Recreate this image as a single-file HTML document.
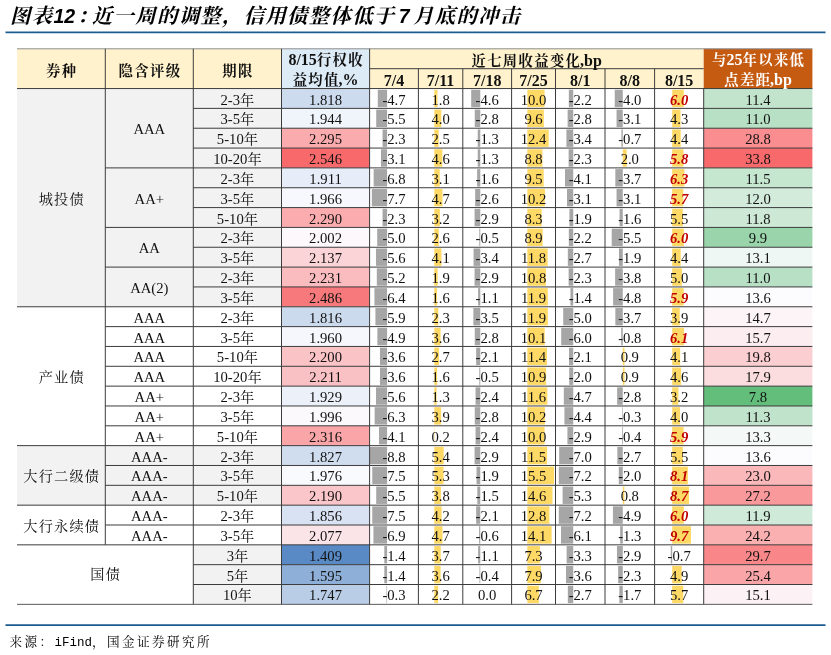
<!DOCTYPE html>
<html lang="zh-CN"><head><meta charset="utf-8"><title>图表12</title>
<style>
html,body{margin:0;padding:0;background:#fff}
body{width:831px;height:655px;position:relative;overflow:hidden;font-family:"Liberation Serif","Noto Serif CJK SC",serif;color:#111}
svg{position:absolute;left:0;top:0}
.layer{position:absolute;left:0;top:0;width:831px;height:655px;will-change:transform}
.title{position:absolute;left:10px;top:1px;white-space:nowrap;font-family:"Liberation Sans","Noto Serif CJK SC",sans-serif;font-weight:bold;font-style:italic;font-size:20.4px;letter-spacing:1.3px;line-height:30px;color:#000}
.title span{display:inline-block}
.title .t1{width:81.9px}
.title .co{margin-left:2px}
.title .n{font-size:19.5px;letter-spacing:0}
.title .n7{width:17.45px;text-align:center;letter-spacing:0;font-size:19.5px}
.src{position:absolute;left:9.5px;top:632.3px;white-space:nowrap;font-family:"Liberation Mono","Noto Serif CJK SC",serif;font-size:12.6px;letter-spacing:2.4px;line-height:22px;color:#000}
.src .m{font-size:12.5px;letter-spacing:0}
.c{position:absolute;display:flex;align-items:center;justify-content:center;text-align:center;font-size:14.67px;line-height:19.9px;white-space:nowrap}
.k{font-size:14.2px;letter-spacing:1.2px;margin-right:-1.2px}
.h{font-weight:bold;font-size:16px}
.h .k{font-size:14.4px;letter-spacing:1.3px;margin-right:-1.3px}
.h2{line-height:19px}
.h>div{position:relative;top:0.8px}
.h2>div{position:relative;top:-0.4px}
.w{color:#fff}
.r{color:#c00000;font-weight:bold;font-style:italic}
</style></head><body>
<svg width="831" height="655" viewBox="0 0 831 655">
<line x1="5.5" y1="32.4" x2="825.5" y2="32.4" stroke="#1c5c90" stroke-width="1.75"/>
<line x1="5.5" y1="625.2" x2="825.5" y2="625.2" stroke="#1c5c90" stroke-width="1.75"/>
<rect x="17.00" y="48.80" width="264.50" height="39.75" fill="#fff2cc"/>
<rect x="281.50" y="48.80" width="88.10" height="39.75" fill="#ddebf7"/>
<rect x="369.60" y="48.80" width="334.10" height="39.75" fill="#fff2cc"/>
<rect x="703.70" y="48.80" width="108.70" height="39.75" fill="#c55a11"/>
<rect x="17.00" y="88.55" width="264.50" height="218.22" fill="#f2f2f2"/>
<rect x="17.00" y="445.64" width="264.50" height="59.52" fill="#f2f2f2"/>
<rect x="193.30" y="544.83" width="88.20" height="59.52" fill="#f2f2f2"/>
<rect x="281.50" y="88.55" width="88.10" height="19.84" fill="#cddbee"/>
<rect x="703.70" y="88.55" width="108.70" height="19.84" fill="#c2e4cd"/>
<rect x="377.79" y="89.75" width="9.30" height="17.44" fill="#a6a6a6"/>
<rect x="434.30" y="89.75" width="3.14" height="17.44" fill="#ffd966"/>
<rect x="471.19" y="89.75" width="9.10" height="17.44" fill="#a6a6a6"/>
<rect x="527.32" y="89.75" width="17.25" height="17.44" fill="#ffd966"/>
<rect x="568.83" y="89.75" width="4.42" height="17.44" fill="#a6a6a6"/>
<rect x="614.73" y="89.75" width="8.05" height="17.44" fill="#a6a6a6"/>
<rect x="672.20" y="89.75" width="11.63" height="17.44" fill="#ffd966"/>
<rect x="281.50" y="108.39" width="88.10" height="19.84" fill="#f0f4fb"/>
<rect x="703.70" y="108.39" width="108.70" height="19.84" fill="#b7e0c4"/>
<rect x="376.21" y="109.59" width="10.88" height="17.44" fill="#a6a6a6"/>
<rect x="434.30" y="109.59" width="6.98" height="17.44" fill="#ffd966"/>
<rect x="474.75" y="109.59" width="5.54" height="17.44" fill="#a6a6a6"/>
<rect x="527.32" y="109.59" width="16.56" height="17.44" fill="#ffd966"/>
<rect x="567.62" y="109.59" width="5.62" height="17.44" fill="#a6a6a6"/>
<rect x="616.54" y="109.59" width="6.24" height="17.44" fill="#a6a6a6"/>
<rect x="672.20" y="109.59" width="8.34" height="17.44" fill="#ffd966"/>
<rect x="281.50" y="128.23" width="88.10" height="19.84" fill="#faabad"/>
<rect x="703.70" y="128.23" width="108.70" height="19.84" fill="#f98d90"/>
<rect x="382.54" y="129.43" width="4.55" height="17.44" fill="#a6a6a6"/>
<rect x="434.30" y="129.43" width="4.36" height="17.44" fill="#ffd966"/>
<rect x="477.72" y="129.43" width="2.57" height="17.44" fill="#a6a6a6"/>
<rect x="527.32" y="129.43" width="21.39" height="17.44" fill="#ffd966"/>
<rect x="566.42" y="129.43" width="6.83" height="17.44" fill="#a6a6a6"/>
<rect x="621.37" y="129.43" width="1.41" height="17.44" fill="#a6a6a6"/>
<rect x="672.20" y="129.43" width="8.53" height="17.44" fill="#ffd966"/>
<rect x="281.50" y="148.07" width="88.10" height="19.84" fill="#f8696b"/>
<rect x="703.70" y="148.07" width="108.70" height="19.84" fill="#f8696b"/>
<rect x="380.96" y="149.27" width="6.13" height="17.44" fill="#a6a6a6"/>
<rect x="434.30" y="149.27" width="8.03" height="17.44" fill="#ffd966"/>
<rect x="477.72" y="149.27" width="2.57" height="17.44" fill="#a6a6a6"/>
<rect x="527.32" y="149.27" width="15.18" height="17.44" fill="#ffd966"/>
<rect x="568.63" y="149.27" width="4.62" height="17.44" fill="#a6a6a6"/>
<rect x="622.78" y="149.27" width="3.92" height="17.44" fill="#ffd966"/>
<rect x="672.20" y="149.27" width="11.24" height="17.44" fill="#ffd966"/>
<rect x="281.50" y="167.90" width="88.10" height="19.84" fill="#e7edf8"/>
<rect x="703.70" y="167.90" width="108.70" height="19.84" fill="#c5e6cf"/>
<rect x="373.64" y="169.10" width="13.45" height="17.44" fill="#a6a6a6"/>
<rect x="434.30" y="169.10" width="5.41" height="17.44" fill="#ffd966"/>
<rect x="477.13" y="169.10" width="3.17" height="17.44" fill="#a6a6a6"/>
<rect x="527.32" y="169.10" width="16.38" height="17.44" fill="#ffd966"/>
<rect x="565.01" y="169.10" width="8.23" height="17.44" fill="#a6a6a6"/>
<rect x="615.34" y="169.10" width="7.45" height="17.44" fill="#a6a6a6"/>
<rect x="672.20" y="169.10" width="12.21" height="17.44" fill="#ffd966"/>
<rect x="281.50" y="187.74" width="88.10" height="19.84" fill="#f6f8fd"/>
<rect x="703.70" y="187.74" width="108.70" height="19.84" fill="#d2ebdb"/>
<rect x="371.86" y="188.94" width="15.23" height="17.44" fill="#a6a6a6"/>
<rect x="434.30" y="188.94" width="8.20" height="17.44" fill="#ffd966"/>
<rect x="475.15" y="188.94" width="5.14" height="17.44" fill="#a6a6a6"/>
<rect x="527.32" y="188.94" width="17.59" height="17.44" fill="#ffd966"/>
<rect x="567.02" y="188.94" width="6.22" height="17.44" fill="#a6a6a6"/>
<rect x="616.54" y="188.94" width="6.24" height="17.44" fill="#a6a6a6"/>
<rect x="672.20" y="188.94" width="11.05" height="17.44" fill="#ffd966"/>
<rect x="281.50" y="207.58" width="88.10" height="19.84" fill="#faacaf"/>
<rect x="703.70" y="207.58" width="108.70" height="19.84" fill="#cde9d6"/>
<rect x="382.54" y="208.78" width="4.55" height="17.44" fill="#a6a6a6"/>
<rect x="434.30" y="208.78" width="5.58" height="17.44" fill="#ffd966"/>
<rect x="474.55" y="208.78" width="5.74" height="17.44" fill="#a6a6a6"/>
<rect x="527.32" y="208.78" width="14.31" height="17.44" fill="#ffd966"/>
<rect x="569.43" y="208.78" width="3.82" height="17.44" fill="#a6a6a6"/>
<rect x="619.56" y="208.78" width="3.22" height="17.44" fill="#a6a6a6"/>
<rect x="672.20" y="208.78" width="10.66" height="17.44" fill="#ffd966"/>
<rect x="281.50" y="227.42" width="88.10" height="19.84" fill="#fcf8fb"/>
<rect x="703.70" y="227.42" width="108.70" height="19.84" fill="#9ad4ab"/>
<rect x="377.20" y="228.62" width="9.89" height="17.44" fill="#a6a6a6"/>
<rect x="434.30" y="228.62" width="4.54" height="17.44" fill="#ffd966"/>
<rect x="479.30" y="228.62" width="0.99" height="17.44" fill="#a6a6a6"/>
<rect x="527.32" y="228.62" width="15.35" height="17.44" fill="#ffd966"/>
<rect x="568.83" y="228.62" width="4.42" height="17.44" fill="#a6a6a6"/>
<rect x="611.71" y="228.62" width="11.07" height="17.44" fill="#a6a6a6"/>
<rect x="672.20" y="228.62" width="11.63" height="17.44" fill="#ffd966"/>
<rect x="281.50" y="247.26" width="88.10" height="19.84" fill="#fbd4d7"/>
<rect x="703.70" y="247.26" width="108.70" height="19.84" fill="#eff7f4"/>
<rect x="376.01" y="248.46" width="11.08" height="17.44" fill="#a6a6a6"/>
<rect x="434.30" y="248.46" width="7.16" height="17.44" fill="#ffd966"/>
<rect x="473.57" y="248.46" width="6.73" height="17.44" fill="#a6a6a6"/>
<rect x="527.32" y="248.46" width="20.35" height="17.44" fill="#ffd966"/>
<rect x="567.82" y="248.46" width="5.42" height="17.44" fill="#a6a6a6"/>
<rect x="618.96" y="248.46" width="3.82" height="17.44" fill="#a6a6a6"/>
<rect x="672.20" y="248.46" width="8.53" height="17.44" fill="#ffd966"/>
<rect x="281.50" y="267.10" width="88.10" height="19.84" fill="#fabcbe"/>
<rect x="703.70" y="267.10" width="108.70" height="19.84" fill="#b7e0c4"/>
<rect x="376.80" y="268.30" width="10.29" height="17.44" fill="#a6a6a6"/>
<rect x="434.30" y="268.30" width="3.32" height="17.44" fill="#ffd966"/>
<rect x="474.55" y="268.30" width="5.74" height="17.44" fill="#a6a6a6"/>
<rect x="527.32" y="268.30" width="18.63" height="17.44" fill="#ffd966"/>
<rect x="568.63" y="268.30" width="4.62" height="17.44" fill="#a6a6a6"/>
<rect x="615.13" y="268.30" width="7.65" height="17.44" fill="#a6a6a6"/>
<rect x="672.20" y="268.30" width="9.69" height="17.44" fill="#ffd966"/>
<rect x="281.50" y="286.93" width="88.10" height="19.84" fill="#f8797b"/>
<rect x="703.70" y="286.93" width="108.70" height="19.84" fill="#fcfcff"/>
<rect x="374.43" y="288.13" width="12.66" height="17.44" fill="#a6a6a6"/>
<rect x="434.30" y="288.13" width="2.79" height="17.44" fill="#ffd966"/>
<rect x="478.12" y="288.13" width="2.18" height="17.44" fill="#a6a6a6"/>
<rect x="527.32" y="288.13" width="20.52" height="17.44" fill="#ffd966"/>
<rect x="570.43" y="288.13" width="2.81" height="17.44" fill="#a6a6a6"/>
<rect x="613.12" y="288.13" width="9.66" height="17.44" fill="#a6a6a6"/>
<rect x="672.20" y="288.13" width="11.44" height="17.44" fill="#ffd966"/>
<rect x="281.50" y="306.77" width="88.10" height="19.84" fill="#ccdaee"/>
<rect x="703.70" y="306.77" width="108.70" height="19.84" fill="#fcf4f7"/>
<rect x="375.42" y="307.97" width="11.67" height="17.44" fill="#a6a6a6"/>
<rect x="434.30" y="307.97" width="4.01" height="17.44" fill="#ffd966"/>
<rect x="473.37" y="307.97" width="6.92" height="17.44" fill="#a6a6a6"/>
<rect x="527.32" y="307.97" width="20.52" height="17.44" fill="#ffd966"/>
<rect x="563.21" y="307.97" width="10.04" height="17.44" fill="#a6a6a6"/>
<rect x="615.34" y="307.97" width="7.45" height="17.44" fill="#a6a6a6"/>
<rect x="672.20" y="307.97" width="7.56" height="17.44" fill="#ffd966"/>
<rect x="281.50" y="326.61" width="88.10" height="19.84" fill="#f5f7fc"/>
<rect x="703.70" y="326.61" width="108.70" height="19.84" fill="#fcedf0"/>
<rect x="377.40" y="327.81" width="9.69" height="17.44" fill="#a6a6a6"/>
<rect x="434.30" y="327.81" width="6.28" height="17.44" fill="#ffd966"/>
<rect x="474.75" y="327.81" width="5.54" height="17.44" fill="#a6a6a6"/>
<rect x="527.32" y="327.81" width="17.42" height="17.44" fill="#ffd966"/>
<rect x="561.20" y="327.81" width="12.05" height="17.44" fill="#a6a6a6"/>
<rect x="621.17" y="327.81" width="1.61" height="17.44" fill="#a6a6a6"/>
<rect x="672.20" y="327.81" width="11.83" height="17.44" fill="#ffd966"/>
<rect x="281.50" y="346.45" width="88.10" height="19.84" fill="#fac4c6"/>
<rect x="703.70" y="346.45" width="108.70" height="19.84" fill="#fbcfd2"/>
<rect x="379.97" y="347.65" width="7.12" height="17.44" fill="#a6a6a6"/>
<rect x="434.30" y="347.65" width="4.71" height="17.44" fill="#ffd966"/>
<rect x="476.14" y="347.65" width="4.15" height="17.44" fill="#a6a6a6"/>
<rect x="527.32" y="347.65" width="19.66" height="17.44" fill="#ffd966"/>
<rect x="569.03" y="347.65" width="4.22" height="17.44" fill="#a6a6a6"/>
<rect x="622.78" y="347.65" width="1.76" height="17.44" fill="#ffd966"/>
<rect x="672.20" y="347.65" width="7.95" height="17.44" fill="#ffd966"/>
<rect x="281.50" y="366.29" width="88.10" height="19.84" fill="#fac1c4"/>
<rect x="703.70" y="366.29" width="108.70" height="19.84" fill="#fbdddf"/>
<rect x="379.97" y="367.49" width="7.12" height="17.44" fill="#a6a6a6"/>
<rect x="434.30" y="367.49" width="2.79" height="17.44" fill="#ffd966"/>
<rect x="479.30" y="367.49" width="0.99" height="17.44" fill="#a6a6a6"/>
<rect x="527.32" y="367.49" width="18.80" height="17.44" fill="#ffd966"/>
<rect x="569.23" y="367.49" width="4.02" height="17.44" fill="#a6a6a6"/>
<rect x="622.78" y="367.49" width="1.76" height="17.44" fill="#ffd966"/>
<rect x="672.20" y="367.49" width="8.92" height="17.44" fill="#ffd966"/>
<rect x="281.50" y="386.13" width="88.10" height="19.84" fill="#ecf1f9"/>
<rect x="703.70" y="386.13" width="108.70" height="19.84" fill="#63be7b"/>
<rect x="376.01" y="387.33" width="11.08" height="17.44" fill="#a6a6a6"/>
<rect x="434.30" y="387.33" width="2.27" height="17.44" fill="#ffd966"/>
<rect x="475.54" y="387.33" width="4.75" height="17.44" fill="#a6a6a6"/>
<rect x="527.32" y="387.33" width="20.01" height="17.44" fill="#ffd966"/>
<rect x="563.81" y="387.33" width="9.44" height="17.44" fill="#a6a6a6"/>
<rect x="617.15" y="387.33" width="5.63" height="17.44" fill="#a6a6a6"/>
<rect x="672.20" y="387.33" width="6.20" height="17.44" fill="#ffd966"/>
<rect x="281.50" y="405.97" width="88.10" height="19.84" fill="#fcf9fc"/>
<rect x="703.70" y="405.97" width="108.70" height="19.84" fill="#bfe3cb"/>
<rect x="374.63" y="407.17" width="12.46" height="17.44" fill="#a6a6a6"/>
<rect x="434.30" y="407.17" width="6.81" height="17.44" fill="#ffd966"/>
<rect x="474.75" y="407.17" width="5.54" height="17.44" fill="#a6a6a6"/>
<rect x="527.32" y="407.17" width="17.59" height="17.44" fill="#ffd966"/>
<rect x="564.41" y="407.17" width="8.84" height="17.44" fill="#a6a6a6"/>
<rect x="622.18" y="407.17" width="0.60" height="17.44" fill="#a6a6a6"/>
<rect x="672.20" y="407.17" width="7.75" height="17.44" fill="#ffd966"/>
<rect x="281.50" y="425.80" width="88.10" height="19.84" fill="#faa5a8"/>
<rect x="703.70" y="425.80" width="108.70" height="19.84" fill="#f4f9f8"/>
<rect x="378.98" y="427.00" width="8.11" height="17.44" fill="#a6a6a6"/>
<rect x="434.30" y="427.00" width="0.35" height="17.44" fill="#ffd966"/>
<rect x="475.54" y="427.00" width="4.75" height="17.44" fill="#a6a6a6"/>
<rect x="527.32" y="427.00" width="17.25" height="17.44" fill="#ffd966"/>
<rect x="567.42" y="427.00" width="5.82" height="17.44" fill="#a6a6a6"/>
<rect x="621.98" y="427.00" width="0.80" height="17.44" fill="#a6a6a6"/>
<rect x="672.20" y="427.00" width="11.44" height="17.44" fill="#ffd966"/>
<rect x="281.50" y="445.64" width="88.10" height="19.84" fill="#cfddef"/>
<rect x="703.70" y="445.64" width="108.70" height="19.84" fill="#fcfcff"/>
<rect x="369.68" y="446.84" width="17.41" height="17.44" fill="#a6a6a6"/>
<rect x="434.30" y="446.84" width="9.42" height="17.44" fill="#ffd966"/>
<rect x="474.55" y="446.84" width="5.74" height="17.44" fill="#a6a6a6"/>
<rect x="527.32" y="446.84" width="19.83" height="17.44" fill="#ffd966"/>
<rect x="559.19" y="446.84" width="14.06" height="17.44" fill="#a6a6a6"/>
<rect x="617.35" y="446.84" width="5.43" height="17.44" fill="#a6a6a6"/>
<rect x="672.20" y="446.84" width="10.66" height="17.44" fill="#ffd966"/>
<rect x="281.50" y="465.48" width="88.10" height="19.84" fill="#f9fafe"/>
<rect x="703.70" y="465.48" width="108.70" height="19.84" fill="#fab8ba"/>
<rect x="372.25" y="466.68" width="14.84" height="17.44" fill="#a6a6a6"/>
<rect x="434.30" y="466.68" width="9.25" height="17.44" fill="#ffd966"/>
<rect x="476.53" y="466.68" width="3.76" height="17.44" fill="#a6a6a6"/>
<rect x="527.32" y="466.68" width="26.73" height="17.44" fill="#ffd966"/>
<rect x="558.79" y="466.68" width="14.46" height="17.44" fill="#a6a6a6"/>
<rect x="618.76" y="466.68" width="4.02" height="17.44" fill="#a6a6a6"/>
<rect x="672.20" y="466.68" width="15.70" height="17.44" fill="#ffd966"/>
<rect x="281.50" y="485.32" width="88.10" height="19.84" fill="#fbc6c9"/>
<rect x="703.70" y="485.32" width="108.70" height="19.84" fill="#f9999b"/>
<rect x="376.21" y="486.52" width="10.88" height="17.44" fill="#a6a6a6"/>
<rect x="434.30" y="486.52" width="6.63" height="17.44" fill="#ffd966"/>
<rect x="477.32" y="486.52" width="2.97" height="17.44" fill="#a6a6a6"/>
<rect x="527.32" y="486.52" width="25.18" height="17.44" fill="#ffd966"/>
<rect x="562.60" y="486.52" width="10.64" height="17.44" fill="#a6a6a6"/>
<rect x="622.78" y="486.52" width="1.57" height="17.44" fill="#ffd966"/>
<rect x="672.20" y="486.52" width="16.87" height="17.44" fill="#ffd966"/>
<rect x="281.50" y="505.16" width="88.10" height="19.84" fill="#d8e2f2"/>
<rect x="703.70" y="505.16" width="108.70" height="19.84" fill="#cfead8"/>
<rect x="372.25" y="506.36" width="14.84" height="17.44" fill="#a6a6a6"/>
<rect x="434.30" y="506.36" width="7.33" height="17.44" fill="#ffd966"/>
<rect x="476.14" y="506.36" width="4.15" height="17.44" fill="#a6a6a6"/>
<rect x="527.32" y="506.36" width="22.08" height="17.44" fill="#ffd966"/>
<rect x="558.79" y="506.36" width="14.46" height="17.44" fill="#a6a6a6"/>
<rect x="612.92" y="506.36" width="9.86" height="17.44" fill="#a6a6a6"/>
<rect x="672.20" y="506.36" width="11.63" height="17.44" fill="#ffd966"/>
<rect x="281.50" y="525.00" width="88.10" height="19.84" fill="#fbe4e7"/>
<rect x="703.70" y="525.00" width="108.70" height="19.84" fill="#faafb1"/>
<rect x="373.44" y="526.20" width="13.65" height="17.44" fill="#a6a6a6"/>
<rect x="434.30" y="526.20" width="8.20" height="17.44" fill="#ffd966"/>
<rect x="479.10" y="526.20" width="1.19" height="17.44" fill="#a6a6a6"/>
<rect x="527.32" y="526.20" width="24.32" height="17.44" fill="#ffd966"/>
<rect x="561.00" y="526.20" width="12.25" height="17.44" fill="#a6a6a6"/>
<rect x="620.17" y="526.20" width="2.62" height="17.44" fill="#a6a6a6"/>
<rect x="672.20" y="526.20" width="18.81" height="17.44" fill="#ffd966"/>
<rect x="281.50" y="544.83" width="88.10" height="19.84" fill="#5a8ac6"/>
<rect x="703.70" y="544.83" width="108.70" height="19.84" fill="#f98789"/>
<rect x="384.32" y="546.03" width="2.77" height="17.44" fill="#a6a6a6"/>
<rect x="434.30" y="546.03" width="6.46" height="17.44" fill="#ffd966"/>
<rect x="478.12" y="546.03" width="2.18" height="17.44" fill="#a6a6a6"/>
<rect x="527.32" y="546.03" width="12.59" height="17.44" fill="#ffd966"/>
<rect x="566.62" y="546.03" width="6.63" height="17.44" fill="#a6a6a6"/>
<rect x="616.95" y="546.03" width="5.84" height="17.44" fill="#a6a6a6"/>
<rect x="670.81" y="546.03" width="1.39" height="17.44" fill="#a6a6a6"/>
<rect x="281.50" y="564.67" width="88.10" height="19.84" fill="#8eafd8"/>
<rect x="703.70" y="564.67" width="108.70" height="19.84" fill="#faa6a9"/>
<rect x="384.32" y="565.87" width="2.77" height="17.44" fill="#a6a6a6"/>
<rect x="434.30" y="565.87" width="6.28" height="17.44" fill="#ffd966"/>
<rect x="479.50" y="565.87" width="0.79" height="17.44" fill="#a6a6a6"/>
<rect x="527.32" y="565.87" width="13.62" height="17.44" fill="#ffd966"/>
<rect x="566.02" y="565.87" width="7.23" height="17.44" fill="#a6a6a6"/>
<rect x="618.15" y="565.87" width="4.63" height="17.44" fill="#a6a6a6"/>
<rect x="672.20" y="565.87" width="9.50" height="17.44" fill="#ffd966"/>
<rect x="281.50" y="584.51" width="88.10" height="19.84" fill="#b9cde7"/>
<rect x="703.70" y="584.51" width="108.70" height="19.84" fill="#fcf1f4"/>
<rect x="386.50" y="585.71" width="0.59" height="17.44" fill="#a6a6a6"/>
<rect x="434.30" y="585.71" width="3.84" height="17.44" fill="#ffd966"/>
<rect x="527.32" y="585.71" width="11.56" height="17.44" fill="#ffd966"/>
<rect x="567.82" y="585.71" width="5.42" height="17.44" fill="#a6a6a6"/>
<rect x="619.36" y="585.71" width="3.42" height="17.44" fill="#a6a6a6"/>
<rect x="672.20" y="585.71" width="11.05" height="17.44" fill="#ffd966"/>
<line x1="17.00" y1="48.80" x2="812.40" y2="48.80" stroke="#8c8c8c" stroke-width="1"/>
<line x1="369.60" y1="68.70" x2="703.70" y2="68.70" stroke="#3c3c3c" stroke-width="1"/>
<line x1="17.00" y1="88.55" x2="812.40" y2="88.55" stroke="#3c3c3c" stroke-width="1"/>
<line x1="105.30" y1="48.80" x2="105.30" y2="88.55" stroke="#3c3c3c" stroke-width="1"/>
<line x1="193.30" y1="48.80" x2="193.30" y2="88.55" stroke="#3c3c3c" stroke-width="1"/>
<line x1="281.50" y1="48.80" x2="281.50" y2="88.55" stroke="#3c3c3c" stroke-width="1"/>
<line x1="369.60" y1="48.80" x2="369.60" y2="88.55" stroke="#3c3c3c" stroke-width="1"/>
<line x1="418.40" y1="68.70" x2="418.40" y2="88.55" stroke="#3c3c3c" stroke-width="1"/>
<line x1="462.80" y1="68.70" x2="462.80" y2="88.55" stroke="#3c3c3c" stroke-width="1"/>
<line x1="511.60" y1="68.70" x2="511.60" y2="88.55" stroke="#3c3c3c" stroke-width="1"/>
<line x1="555.50" y1="68.70" x2="555.50" y2="88.55" stroke="#3c3c3c" stroke-width="1"/>
<line x1="605.00" y1="68.70" x2="605.00" y2="88.55" stroke="#3c3c3c" stroke-width="1"/>
<line x1="654.60" y1="68.70" x2="654.60" y2="88.55" stroke="#3c3c3c" stroke-width="1"/>
<line x1="105.30" y1="88.55" x2="105.30" y2="544.83" stroke="#3c3c3c" stroke-width="1"/>
<line x1="193.30" y1="88.55" x2="193.30" y2="604.35" stroke="#3c3c3c" stroke-width="1"/>
<line x1="281.50" y1="88.55" x2="281.50" y2="604.35" stroke="#3c3c3c" stroke-width="1"/>
<line x1="369.60" y1="88.55" x2="369.60" y2="604.35" stroke="#3c3c3c" stroke-width="1"/>
<line x1="418.40" y1="88.55" x2="418.40" y2="604.35" stroke="#3c3c3c" stroke-width="1"/>
<line x1="462.80" y1="88.55" x2="462.80" y2="604.35" stroke="#3c3c3c" stroke-width="1"/>
<line x1="511.60" y1="88.55" x2="511.60" y2="604.35" stroke="#3c3c3c" stroke-width="1"/>
<line x1="555.50" y1="88.55" x2="555.50" y2="604.35" stroke="#3c3c3c" stroke-width="1"/>
<line x1="605.00" y1="88.55" x2="605.00" y2="604.35" stroke="#3c3c3c" stroke-width="1"/>
<line x1="654.60" y1="88.55" x2="654.60" y2="604.35" stroke="#3c3c3c" stroke-width="1"/>
<line x1="703.70" y1="88.55" x2="703.70" y2="604.35" stroke="#3c3c3c" stroke-width="1"/>
<line x1="193.30" y1="108.39" x2="812.40" y2="108.39" stroke="#3c3c3c" stroke-width="1"/>
<line x1="193.30" y1="128.23" x2="812.40" y2="128.23" stroke="#3c3c3c" stroke-width="1"/>
<line x1="193.30" y1="148.07" x2="812.40" y2="148.07" stroke="#3c3c3c" stroke-width="1"/>
<line x1="105.30" y1="167.90" x2="812.40" y2="167.90" stroke="#3c3c3c" stroke-width="1"/>
<line x1="193.30" y1="187.74" x2="812.40" y2="187.74" stroke="#3c3c3c" stroke-width="1"/>
<line x1="193.30" y1="207.58" x2="812.40" y2="207.58" stroke="#3c3c3c" stroke-width="1"/>
<line x1="105.30" y1="227.42" x2="812.40" y2="227.42" stroke="#3c3c3c" stroke-width="1"/>
<line x1="193.30" y1="247.26" x2="812.40" y2="247.26" stroke="#3c3c3c" stroke-width="1"/>
<line x1="105.30" y1="267.10" x2="812.40" y2="267.10" stroke="#3c3c3c" stroke-width="1"/>
<line x1="193.30" y1="286.93" x2="812.40" y2="286.93" stroke="#3c3c3c" stroke-width="1"/>
<line x1="17.00" y1="306.77" x2="812.40" y2="306.77" stroke="#3c3c3c" stroke-width="1"/>
<line x1="105.30" y1="326.61" x2="812.40" y2="326.61" stroke="#3c3c3c" stroke-width="1"/>
<line x1="105.30" y1="346.45" x2="812.40" y2="346.45" stroke="#3c3c3c" stroke-width="1"/>
<line x1="105.30" y1="366.29" x2="812.40" y2="366.29" stroke="#3c3c3c" stroke-width="1"/>
<line x1="105.30" y1="386.13" x2="812.40" y2="386.13" stroke="#3c3c3c" stroke-width="1"/>
<line x1="105.30" y1="405.97" x2="812.40" y2="405.97" stroke="#3c3c3c" stroke-width="1"/>
<line x1="105.30" y1="425.80" x2="812.40" y2="425.80" stroke="#3c3c3c" stroke-width="1"/>
<line x1="17.00" y1="445.64" x2="812.40" y2="445.64" stroke="#3c3c3c" stroke-width="1"/>
<line x1="105.30" y1="465.48" x2="812.40" y2="465.48" stroke="#3c3c3c" stroke-width="1"/>
<line x1="105.30" y1="485.32" x2="812.40" y2="485.32" stroke="#3c3c3c" stroke-width="1"/>
<line x1="17.00" y1="505.16" x2="812.40" y2="505.16" stroke="#3c3c3c" stroke-width="1"/>
<line x1="105.30" y1="525.00" x2="812.40" y2="525.00" stroke="#3c3c3c" stroke-width="1"/>
<line x1="17.00" y1="544.83" x2="812.40" y2="544.83" stroke="#3c3c3c" stroke-width="1"/>
<line x1="193.30" y1="564.67" x2="812.40" y2="564.67" stroke="#3c3c3c" stroke-width="1"/>
<line x1="193.30" y1="584.51" x2="812.40" y2="584.51" stroke="#3c3c3c" stroke-width="1"/>
<line x1="17.00" y1="604.35" x2="812.40" y2="604.35" stroke="#5a5a5a" stroke-width="1"/>
</svg>
<div class="layer">
<div class="title"><span class="t1">图表<span class="n">12</span><span class="co">：</span></span><span>近一周的调整，信用债整体低于</span><span class="n7">7</span><span>月底的冲击</span></div>
<div class="c h" style="left:17.00px;top:50.80px;width:88.30px;height:39.75px"><div><span class="k">券种</span></div></div>
<div class="c h" style="left:105.30px;top:50.80px;width:88.00px;height:39.75px"><div><span class="k">隐含评级</span></div></div>
<div class="c h" style="left:193.30px;top:50.80px;width:88.20px;height:39.75px"><div><span class="k">期限</span></div></div>
<div class="c h h2" style="left:281.50px;top:50.80px;width:88.10px;height:39.75px"><div>8/15<span class="k">行权收</span><br><span class="k">益均值</span>,%</div></div>
<div class="c h" style="left:369.60px;top:50.80px;width:334.10px;height:19.90px"><div><span class="k">近七周收益变化</span>,bp</div></div>
<div class="c h" style="left:369.60px;top:70.70px;width:48.80px;height:19.85px"><div>7/4</div></div>
<div class="c h" style="left:418.40px;top:70.70px;width:44.40px;height:19.85px"><div>7/11</div></div>
<div class="c h" style="left:462.80px;top:70.70px;width:48.80px;height:19.85px"><div>7/18</div></div>
<div class="c h" style="left:511.60px;top:70.70px;width:43.90px;height:19.85px"><div>7/25</div></div>
<div class="c h" style="left:555.50px;top:70.70px;width:49.50px;height:19.85px"><div>8/1</div></div>
<div class="c h" style="left:605.00px;top:70.70px;width:49.60px;height:19.85px"><div>8/8</div></div>
<div class="c h" style="left:654.60px;top:70.70px;width:49.10px;height:19.85px"><div>8/15</div></div>
<div class="c h h2 w" style="left:703.70px;top:50.80px;width:108.70px;height:39.75px"><div><span class="k">与</span>25<span class="k">年以来低</span><br><span class="k">点差距</span>,bp</div></div>
<div class="c " style="left:17.00px;top:90.55px;width:88.30px;height:218.22px"><div><span class="k">城投债</span></div></div>
<div class="c " style="left:17.00px;top:308.77px;width:88.30px;height:138.87px"><div><span class="k">产业债</span></div></div>
<div class="c " style="left:17.00px;top:447.64px;width:88.30px;height:59.52px"><div><span class="k">大行二级债</span></div></div>
<div class="c " style="left:17.00px;top:507.16px;width:88.30px;height:39.68px"><div><span class="k">大行永续债</span></div></div>
<div class="c " style="left:17.00px;top:545.43px;width:176.30px;height:59.52px"><div><span class="k">国债</span></div></div>
<div class="c " style="left:105.30px;top:90.55px;width:88.00px;height:79.35px"><div>AAA</div></div>
<div class="c " style="left:105.30px;top:169.90px;width:88.00px;height:59.52px"><div>AA+</div></div>
<div class="c " style="left:105.30px;top:229.42px;width:88.00px;height:39.68px"><div>AA</div></div>
<div class="c " style="left:105.30px;top:269.10px;width:88.00px;height:39.68px"><div>AA(2)</div></div>
<div class="c " style="left:105.30px;top:308.77px;width:88.00px;height:19.84px"><div>AAA</div></div>
<div class="c " style="left:105.30px;top:328.61px;width:88.00px;height:19.84px"><div>AAA</div></div>
<div class="c " style="left:105.30px;top:348.45px;width:88.00px;height:19.84px"><div>AAA</div></div>
<div class="c " style="left:105.30px;top:368.29px;width:88.00px;height:19.84px"><div>AAA</div></div>
<div class="c " style="left:105.30px;top:388.13px;width:88.00px;height:19.84px"><div>AA+</div></div>
<div class="c " style="left:105.30px;top:407.97px;width:88.00px;height:19.84px"><div>AA+</div></div>
<div class="c " style="left:105.30px;top:427.80px;width:88.00px;height:19.84px"><div>AA+</div></div>
<div class="c " style="left:105.30px;top:447.64px;width:88.00px;height:19.84px"><div>AAA-</div></div>
<div class="c " style="left:105.30px;top:467.48px;width:88.00px;height:19.84px"><div>AAA-</div></div>
<div class="c " style="left:105.30px;top:487.32px;width:88.00px;height:19.84px"><div>AAA-</div></div>
<div class="c " style="left:105.30px;top:507.16px;width:88.00px;height:19.84px"><div>AAA-</div></div>
<div class="c " style="left:105.30px;top:527.00px;width:88.00px;height:19.84px"><div>AAA-</div></div>
<div class="c " style="left:193.30px;top:90.55px;width:88.20px;height:19.84px"><div>2-3<span class="k">年</span></div></div>
<div class="c " style="left:281.50px;top:90.55px;width:88.10px;height:19.84px"><div>1.818</div></div>
<div class="c " style="left:369.60px;top:90.55px;width:48.80px;height:19.84px"><div>-4.7</div></div>
<div class="c " style="left:418.40px;top:90.55px;width:44.40px;height:19.84px"><div>1.8</div></div>
<div class="c " style="left:462.80px;top:90.55px;width:48.80px;height:19.84px"><div>-4.6</div></div>
<div class="c " style="left:511.60px;top:90.55px;width:43.90px;height:19.84px"><div>10.0</div></div>
<div class="c " style="left:555.50px;top:90.55px;width:49.50px;height:19.84px"><div>-2.2</div></div>
<div class="c " style="left:605.00px;top:90.55px;width:49.60px;height:19.84px"><div>-4.0</div></div>
<div class="c r" style="left:654.60px;top:90.55px;width:49.10px;height:19.84px"><div>6.0</div></div>
<div class="c " style="left:703.70px;top:90.55px;width:108.70px;height:19.84px"><div>11.4</div></div>
<div class="c " style="left:193.30px;top:110.39px;width:88.20px;height:19.84px"><div>3-5<span class="k">年</span></div></div>
<div class="c " style="left:281.50px;top:110.39px;width:88.10px;height:19.84px"><div>1.944</div></div>
<div class="c " style="left:369.60px;top:110.39px;width:48.80px;height:19.84px"><div>-5.5</div></div>
<div class="c " style="left:418.40px;top:110.39px;width:44.40px;height:19.84px"><div>4.0</div></div>
<div class="c " style="left:462.80px;top:110.39px;width:48.80px;height:19.84px"><div>-2.8</div></div>
<div class="c " style="left:511.60px;top:110.39px;width:43.90px;height:19.84px"><div>9.6</div></div>
<div class="c " style="left:555.50px;top:110.39px;width:49.50px;height:19.84px"><div>-2.8</div></div>
<div class="c " style="left:605.00px;top:110.39px;width:49.60px;height:19.84px"><div>-3.1</div></div>
<div class="c " style="left:654.60px;top:110.39px;width:49.10px;height:19.84px"><div>4.3</div></div>
<div class="c " style="left:703.70px;top:110.39px;width:108.70px;height:19.84px"><div>11.0</div></div>
<div class="c " style="left:193.30px;top:130.23px;width:88.20px;height:19.84px"><div>5-10<span class="k">年</span></div></div>
<div class="c " style="left:281.50px;top:130.23px;width:88.10px;height:19.84px"><div>2.295</div></div>
<div class="c " style="left:369.60px;top:130.23px;width:48.80px;height:19.84px"><div>-2.3</div></div>
<div class="c " style="left:418.40px;top:130.23px;width:44.40px;height:19.84px"><div>2.5</div></div>
<div class="c " style="left:462.80px;top:130.23px;width:48.80px;height:19.84px"><div>-1.3</div></div>
<div class="c " style="left:511.60px;top:130.23px;width:43.90px;height:19.84px"><div>12.4</div></div>
<div class="c " style="left:555.50px;top:130.23px;width:49.50px;height:19.84px"><div>-3.4</div></div>
<div class="c " style="left:605.00px;top:130.23px;width:49.60px;height:19.84px"><div>-0.7</div></div>
<div class="c " style="left:654.60px;top:130.23px;width:49.10px;height:19.84px"><div>4.4</div></div>
<div class="c " style="left:703.70px;top:130.23px;width:108.70px;height:19.84px"><div>28.8</div></div>
<div class="c " style="left:193.30px;top:150.07px;width:88.20px;height:19.84px"><div>10-20<span class="k">年</span></div></div>
<div class="c " style="left:281.50px;top:150.07px;width:88.10px;height:19.84px"><div>2.546</div></div>
<div class="c " style="left:369.60px;top:150.07px;width:48.80px;height:19.84px"><div>-3.1</div></div>
<div class="c " style="left:418.40px;top:150.07px;width:44.40px;height:19.84px"><div>4.6</div></div>
<div class="c " style="left:462.80px;top:150.07px;width:48.80px;height:19.84px"><div>-1.3</div></div>
<div class="c " style="left:511.60px;top:150.07px;width:43.90px;height:19.84px"><div>8.8</div></div>
<div class="c " style="left:555.50px;top:150.07px;width:49.50px;height:19.84px"><div>-2.3</div></div>
<div class="c " style="left:605.00px;top:150.07px;width:49.60px;height:19.84px"><div>2.0</div></div>
<div class="c r" style="left:654.60px;top:150.07px;width:49.10px;height:19.84px"><div>5.8</div></div>
<div class="c " style="left:703.70px;top:150.07px;width:108.70px;height:19.84px"><div>33.8</div></div>
<div class="c " style="left:193.30px;top:169.90px;width:88.20px;height:19.84px"><div>2-3<span class="k">年</span></div></div>
<div class="c " style="left:281.50px;top:169.90px;width:88.10px;height:19.84px"><div>1.911</div></div>
<div class="c " style="left:369.60px;top:169.90px;width:48.80px;height:19.84px"><div>-6.8</div></div>
<div class="c " style="left:418.40px;top:169.90px;width:44.40px;height:19.84px"><div>3.1</div></div>
<div class="c " style="left:462.80px;top:169.90px;width:48.80px;height:19.84px"><div>-1.6</div></div>
<div class="c " style="left:511.60px;top:169.90px;width:43.90px;height:19.84px"><div>9.5</div></div>
<div class="c " style="left:555.50px;top:169.90px;width:49.50px;height:19.84px"><div>-4.1</div></div>
<div class="c " style="left:605.00px;top:169.90px;width:49.60px;height:19.84px"><div>-3.7</div></div>
<div class="c r" style="left:654.60px;top:169.90px;width:49.10px;height:19.84px"><div>6.3</div></div>
<div class="c " style="left:703.70px;top:169.90px;width:108.70px;height:19.84px"><div>11.5</div></div>
<div class="c " style="left:193.30px;top:189.74px;width:88.20px;height:19.84px"><div>3-5<span class="k">年</span></div></div>
<div class="c " style="left:281.50px;top:189.74px;width:88.10px;height:19.84px"><div>1.966</div></div>
<div class="c " style="left:369.60px;top:189.74px;width:48.80px;height:19.84px"><div>-7.7</div></div>
<div class="c " style="left:418.40px;top:189.74px;width:44.40px;height:19.84px"><div>4.7</div></div>
<div class="c " style="left:462.80px;top:189.74px;width:48.80px;height:19.84px"><div>-2.6</div></div>
<div class="c " style="left:511.60px;top:189.74px;width:43.90px;height:19.84px"><div>10.2</div></div>
<div class="c " style="left:555.50px;top:189.74px;width:49.50px;height:19.84px"><div>-3.1</div></div>
<div class="c " style="left:605.00px;top:189.74px;width:49.60px;height:19.84px"><div>-3.1</div></div>
<div class="c r" style="left:654.60px;top:189.74px;width:49.10px;height:19.84px"><div>5.7</div></div>
<div class="c " style="left:703.70px;top:189.74px;width:108.70px;height:19.84px"><div>12.0</div></div>
<div class="c " style="left:193.30px;top:209.58px;width:88.20px;height:19.84px"><div>5-10<span class="k">年</span></div></div>
<div class="c " style="left:281.50px;top:209.58px;width:88.10px;height:19.84px"><div>2.290</div></div>
<div class="c " style="left:369.60px;top:209.58px;width:48.80px;height:19.84px"><div>-2.3</div></div>
<div class="c " style="left:418.40px;top:209.58px;width:44.40px;height:19.84px"><div>3.2</div></div>
<div class="c " style="left:462.80px;top:209.58px;width:48.80px;height:19.84px"><div>-2.9</div></div>
<div class="c " style="left:511.60px;top:209.58px;width:43.90px;height:19.84px"><div>8.3</div></div>
<div class="c " style="left:555.50px;top:209.58px;width:49.50px;height:19.84px"><div>-1.9</div></div>
<div class="c " style="left:605.00px;top:209.58px;width:49.60px;height:19.84px"><div>-1.6</div></div>
<div class="c " style="left:654.60px;top:209.58px;width:49.10px;height:19.84px"><div>5.5</div></div>
<div class="c " style="left:703.70px;top:209.58px;width:108.70px;height:19.84px"><div>11.8</div></div>
<div class="c " style="left:193.30px;top:229.42px;width:88.20px;height:19.84px"><div>2-3<span class="k">年</span></div></div>
<div class="c " style="left:281.50px;top:229.42px;width:88.10px;height:19.84px"><div>2.002</div></div>
<div class="c " style="left:369.60px;top:229.42px;width:48.80px;height:19.84px"><div>-5.0</div></div>
<div class="c " style="left:418.40px;top:229.42px;width:44.40px;height:19.84px"><div>2.6</div></div>
<div class="c " style="left:462.80px;top:229.42px;width:48.80px;height:19.84px"><div>-0.5</div></div>
<div class="c " style="left:511.60px;top:229.42px;width:43.90px;height:19.84px"><div>8.9</div></div>
<div class="c " style="left:555.50px;top:229.42px;width:49.50px;height:19.84px"><div>-2.2</div></div>
<div class="c " style="left:605.00px;top:229.42px;width:49.60px;height:19.84px"><div>-5.5</div></div>
<div class="c r" style="left:654.60px;top:229.42px;width:49.10px;height:19.84px"><div>6.0</div></div>
<div class="c " style="left:703.70px;top:229.42px;width:108.70px;height:19.84px"><div>9.9</div></div>
<div class="c " style="left:193.30px;top:249.26px;width:88.20px;height:19.84px"><div>3-5<span class="k">年</span></div></div>
<div class="c " style="left:281.50px;top:249.26px;width:88.10px;height:19.84px"><div>2.137</div></div>
<div class="c " style="left:369.60px;top:249.26px;width:48.80px;height:19.84px"><div>-5.6</div></div>
<div class="c " style="left:418.40px;top:249.26px;width:44.40px;height:19.84px"><div>4.1</div></div>
<div class="c " style="left:462.80px;top:249.26px;width:48.80px;height:19.84px"><div>-3.4</div></div>
<div class="c " style="left:511.60px;top:249.26px;width:43.90px;height:19.84px"><div>11.8</div></div>
<div class="c " style="left:555.50px;top:249.26px;width:49.50px;height:19.84px"><div>-2.7</div></div>
<div class="c " style="left:605.00px;top:249.26px;width:49.60px;height:19.84px"><div>-1.9</div></div>
<div class="c " style="left:654.60px;top:249.26px;width:49.10px;height:19.84px"><div>4.4</div></div>
<div class="c " style="left:703.70px;top:249.26px;width:108.70px;height:19.84px"><div>13.1</div></div>
<div class="c " style="left:193.30px;top:269.10px;width:88.20px;height:19.84px"><div>2-3<span class="k">年</span></div></div>
<div class="c " style="left:281.50px;top:269.10px;width:88.10px;height:19.84px"><div>2.231</div></div>
<div class="c " style="left:369.60px;top:269.10px;width:48.80px;height:19.84px"><div>-5.2</div></div>
<div class="c " style="left:418.40px;top:269.10px;width:44.40px;height:19.84px"><div>1.9</div></div>
<div class="c " style="left:462.80px;top:269.10px;width:48.80px;height:19.84px"><div>-2.9</div></div>
<div class="c " style="left:511.60px;top:269.10px;width:43.90px;height:19.84px"><div>10.8</div></div>
<div class="c " style="left:555.50px;top:269.10px;width:49.50px;height:19.84px"><div>-2.3</div></div>
<div class="c " style="left:605.00px;top:269.10px;width:49.60px;height:19.84px"><div>-3.8</div></div>
<div class="c " style="left:654.60px;top:269.10px;width:49.10px;height:19.84px"><div>5.0</div></div>
<div class="c " style="left:703.70px;top:269.10px;width:108.70px;height:19.84px"><div>11.0</div></div>
<div class="c " style="left:193.30px;top:288.93px;width:88.20px;height:19.84px"><div>3-5<span class="k">年</span></div></div>
<div class="c " style="left:281.50px;top:288.93px;width:88.10px;height:19.84px"><div>2.486</div></div>
<div class="c " style="left:369.60px;top:288.93px;width:48.80px;height:19.84px"><div>-6.4</div></div>
<div class="c " style="left:418.40px;top:288.93px;width:44.40px;height:19.84px"><div>1.6</div></div>
<div class="c " style="left:462.80px;top:288.93px;width:48.80px;height:19.84px"><div>-1.1</div></div>
<div class="c " style="left:511.60px;top:288.93px;width:43.90px;height:19.84px"><div>11.9</div></div>
<div class="c " style="left:555.50px;top:288.93px;width:49.50px;height:19.84px"><div>-1.4</div></div>
<div class="c " style="left:605.00px;top:288.93px;width:49.60px;height:19.84px"><div>-4.8</div></div>
<div class="c r" style="left:654.60px;top:288.93px;width:49.10px;height:19.84px"><div>5.9</div></div>
<div class="c " style="left:703.70px;top:288.93px;width:108.70px;height:19.84px"><div>13.6</div></div>
<div class="c " style="left:193.30px;top:308.77px;width:88.20px;height:19.84px"><div>2-3<span class="k">年</span></div></div>
<div class="c " style="left:281.50px;top:308.77px;width:88.10px;height:19.84px"><div>1.816</div></div>
<div class="c " style="left:369.60px;top:308.77px;width:48.80px;height:19.84px"><div>-5.9</div></div>
<div class="c " style="left:418.40px;top:308.77px;width:44.40px;height:19.84px"><div>2.3</div></div>
<div class="c " style="left:462.80px;top:308.77px;width:48.80px;height:19.84px"><div>-3.5</div></div>
<div class="c " style="left:511.60px;top:308.77px;width:43.90px;height:19.84px"><div>11.9</div></div>
<div class="c " style="left:555.50px;top:308.77px;width:49.50px;height:19.84px"><div>-5.0</div></div>
<div class="c " style="left:605.00px;top:308.77px;width:49.60px;height:19.84px"><div>-3.7</div></div>
<div class="c " style="left:654.60px;top:308.77px;width:49.10px;height:19.84px"><div>3.9</div></div>
<div class="c " style="left:703.70px;top:308.77px;width:108.70px;height:19.84px"><div>14.7</div></div>
<div class="c " style="left:193.30px;top:328.61px;width:88.20px;height:19.84px"><div>3-5<span class="k">年</span></div></div>
<div class="c " style="left:281.50px;top:328.61px;width:88.10px;height:19.84px"><div>1.960</div></div>
<div class="c " style="left:369.60px;top:328.61px;width:48.80px;height:19.84px"><div>-4.9</div></div>
<div class="c " style="left:418.40px;top:328.61px;width:44.40px;height:19.84px"><div>3.6</div></div>
<div class="c " style="left:462.80px;top:328.61px;width:48.80px;height:19.84px"><div>-2.8</div></div>
<div class="c " style="left:511.60px;top:328.61px;width:43.90px;height:19.84px"><div>10.1</div></div>
<div class="c " style="left:555.50px;top:328.61px;width:49.50px;height:19.84px"><div>-6.0</div></div>
<div class="c " style="left:605.00px;top:328.61px;width:49.60px;height:19.84px"><div>-0.8</div></div>
<div class="c r" style="left:654.60px;top:328.61px;width:49.10px;height:19.84px"><div>6.1</div></div>
<div class="c " style="left:703.70px;top:328.61px;width:108.70px;height:19.84px"><div>15.7</div></div>
<div class="c " style="left:193.30px;top:348.45px;width:88.20px;height:19.84px"><div>5-10<span class="k">年</span></div></div>
<div class="c " style="left:281.50px;top:348.45px;width:88.10px;height:19.84px"><div>2.200</div></div>
<div class="c " style="left:369.60px;top:348.45px;width:48.80px;height:19.84px"><div>-3.6</div></div>
<div class="c " style="left:418.40px;top:348.45px;width:44.40px;height:19.84px"><div>2.7</div></div>
<div class="c " style="left:462.80px;top:348.45px;width:48.80px;height:19.84px"><div>-2.1</div></div>
<div class="c " style="left:511.60px;top:348.45px;width:43.90px;height:19.84px"><div>11.4</div></div>
<div class="c " style="left:555.50px;top:348.45px;width:49.50px;height:19.84px"><div>-2.1</div></div>
<div class="c " style="left:605.00px;top:348.45px;width:49.60px;height:19.84px"><div>0.9</div></div>
<div class="c " style="left:654.60px;top:348.45px;width:49.10px;height:19.84px"><div>4.1</div></div>
<div class="c " style="left:703.70px;top:348.45px;width:108.70px;height:19.84px"><div>19.8</div></div>
<div class="c " style="left:193.30px;top:368.29px;width:88.20px;height:19.84px"><div>10-20<span class="k">年</span></div></div>
<div class="c " style="left:281.50px;top:368.29px;width:88.10px;height:19.84px"><div>2.211</div></div>
<div class="c " style="left:369.60px;top:368.29px;width:48.80px;height:19.84px"><div>-3.6</div></div>
<div class="c " style="left:418.40px;top:368.29px;width:44.40px;height:19.84px"><div>1.6</div></div>
<div class="c " style="left:462.80px;top:368.29px;width:48.80px;height:19.84px"><div>-0.5</div></div>
<div class="c " style="left:511.60px;top:368.29px;width:43.90px;height:19.84px"><div>10.9</div></div>
<div class="c " style="left:555.50px;top:368.29px;width:49.50px;height:19.84px"><div>-2.0</div></div>
<div class="c " style="left:605.00px;top:368.29px;width:49.60px;height:19.84px"><div>0.9</div></div>
<div class="c " style="left:654.60px;top:368.29px;width:49.10px;height:19.84px"><div>4.6</div></div>
<div class="c " style="left:703.70px;top:368.29px;width:108.70px;height:19.84px"><div>17.9</div></div>
<div class="c " style="left:193.30px;top:388.13px;width:88.20px;height:19.84px"><div>2-3<span class="k">年</span></div></div>
<div class="c " style="left:281.50px;top:388.13px;width:88.10px;height:19.84px"><div>1.929</div></div>
<div class="c " style="left:369.60px;top:388.13px;width:48.80px;height:19.84px"><div>-5.6</div></div>
<div class="c " style="left:418.40px;top:388.13px;width:44.40px;height:19.84px"><div>1.3</div></div>
<div class="c " style="left:462.80px;top:388.13px;width:48.80px;height:19.84px"><div>-2.4</div></div>
<div class="c " style="left:511.60px;top:388.13px;width:43.90px;height:19.84px"><div>11.6</div></div>
<div class="c " style="left:555.50px;top:388.13px;width:49.50px;height:19.84px"><div>-4.7</div></div>
<div class="c " style="left:605.00px;top:388.13px;width:49.60px;height:19.84px"><div>-2.8</div></div>
<div class="c " style="left:654.60px;top:388.13px;width:49.10px;height:19.84px"><div>3.2</div></div>
<div class="c " style="left:703.70px;top:388.13px;width:108.70px;height:19.84px"><div>7.8</div></div>
<div class="c " style="left:193.30px;top:407.97px;width:88.20px;height:19.84px"><div>3-5<span class="k">年</span></div></div>
<div class="c " style="left:281.50px;top:407.97px;width:88.10px;height:19.84px"><div>1.996</div></div>
<div class="c " style="left:369.60px;top:407.97px;width:48.80px;height:19.84px"><div>-6.3</div></div>
<div class="c " style="left:418.40px;top:407.97px;width:44.40px;height:19.84px"><div>3.9</div></div>
<div class="c " style="left:462.80px;top:407.97px;width:48.80px;height:19.84px"><div>-2.8</div></div>
<div class="c " style="left:511.60px;top:407.97px;width:43.90px;height:19.84px"><div>10.2</div></div>
<div class="c " style="left:555.50px;top:407.97px;width:49.50px;height:19.84px"><div>-4.4</div></div>
<div class="c " style="left:605.00px;top:407.97px;width:49.60px;height:19.84px"><div>-0.3</div></div>
<div class="c " style="left:654.60px;top:407.97px;width:49.10px;height:19.84px"><div>4.0</div></div>
<div class="c " style="left:703.70px;top:407.97px;width:108.70px;height:19.84px"><div>11.3</div></div>
<div class="c " style="left:193.30px;top:427.80px;width:88.20px;height:19.84px"><div>5-10<span class="k">年</span></div></div>
<div class="c " style="left:281.50px;top:427.80px;width:88.10px;height:19.84px"><div>2.316</div></div>
<div class="c " style="left:369.60px;top:427.80px;width:48.80px;height:19.84px"><div>-4.1</div></div>
<div class="c " style="left:418.40px;top:427.80px;width:44.40px;height:19.84px"><div>0.2</div></div>
<div class="c " style="left:462.80px;top:427.80px;width:48.80px;height:19.84px"><div>-2.4</div></div>
<div class="c " style="left:511.60px;top:427.80px;width:43.90px;height:19.84px"><div>10.0</div></div>
<div class="c " style="left:555.50px;top:427.80px;width:49.50px;height:19.84px"><div>-2.9</div></div>
<div class="c " style="left:605.00px;top:427.80px;width:49.60px;height:19.84px"><div>-0.4</div></div>
<div class="c r" style="left:654.60px;top:427.80px;width:49.10px;height:19.84px"><div>5.9</div></div>
<div class="c " style="left:703.70px;top:427.80px;width:108.70px;height:19.84px"><div>13.3</div></div>
<div class="c " style="left:193.30px;top:447.64px;width:88.20px;height:19.84px"><div>2-3<span class="k">年</span></div></div>
<div class="c " style="left:281.50px;top:447.64px;width:88.10px;height:19.84px"><div>1.827</div></div>
<div class="c " style="left:369.60px;top:447.64px;width:48.80px;height:19.84px"><div>-8.8</div></div>
<div class="c " style="left:418.40px;top:447.64px;width:44.40px;height:19.84px"><div>5.4</div></div>
<div class="c " style="left:462.80px;top:447.64px;width:48.80px;height:19.84px"><div>-2.9</div></div>
<div class="c " style="left:511.60px;top:447.64px;width:43.90px;height:19.84px"><div>11.5</div></div>
<div class="c " style="left:555.50px;top:447.64px;width:49.50px;height:19.84px"><div>-7.0</div></div>
<div class="c " style="left:605.00px;top:447.64px;width:49.60px;height:19.84px"><div>-2.7</div></div>
<div class="c " style="left:654.60px;top:447.64px;width:49.10px;height:19.84px"><div>5.5</div></div>
<div class="c " style="left:703.70px;top:447.64px;width:108.70px;height:19.84px"><div>13.6</div></div>
<div class="c " style="left:193.30px;top:467.48px;width:88.20px;height:19.84px"><div>3-5<span class="k">年</span></div></div>
<div class="c " style="left:281.50px;top:467.48px;width:88.10px;height:19.84px"><div>1.976</div></div>
<div class="c " style="left:369.60px;top:467.48px;width:48.80px;height:19.84px"><div>-7.5</div></div>
<div class="c " style="left:418.40px;top:467.48px;width:44.40px;height:19.84px"><div>5.3</div></div>
<div class="c " style="left:462.80px;top:467.48px;width:48.80px;height:19.84px"><div>-1.9</div></div>
<div class="c " style="left:511.60px;top:467.48px;width:43.90px;height:19.84px"><div>15.5</div></div>
<div class="c " style="left:555.50px;top:467.48px;width:49.50px;height:19.84px"><div>-7.2</div></div>
<div class="c " style="left:605.00px;top:467.48px;width:49.60px;height:19.84px"><div>-2.0</div></div>
<div class="c r" style="left:654.60px;top:467.48px;width:49.10px;height:19.84px"><div>8.1</div></div>
<div class="c " style="left:703.70px;top:467.48px;width:108.70px;height:19.84px"><div>23.0</div></div>
<div class="c " style="left:193.30px;top:487.32px;width:88.20px;height:19.84px"><div>5-10<span class="k">年</span></div></div>
<div class="c " style="left:281.50px;top:487.32px;width:88.10px;height:19.84px"><div>2.190</div></div>
<div class="c " style="left:369.60px;top:487.32px;width:48.80px;height:19.84px"><div>-5.5</div></div>
<div class="c " style="left:418.40px;top:487.32px;width:44.40px;height:19.84px"><div>3.8</div></div>
<div class="c " style="left:462.80px;top:487.32px;width:48.80px;height:19.84px"><div>-1.5</div></div>
<div class="c " style="left:511.60px;top:487.32px;width:43.90px;height:19.84px"><div>14.6</div></div>
<div class="c " style="left:555.50px;top:487.32px;width:49.50px;height:19.84px"><div>-5.3</div></div>
<div class="c " style="left:605.00px;top:487.32px;width:49.60px;height:19.84px"><div>0.8</div></div>
<div class="c r" style="left:654.60px;top:487.32px;width:49.10px;height:19.84px"><div>8.7</div></div>
<div class="c " style="left:703.70px;top:487.32px;width:108.70px;height:19.84px"><div>27.2</div></div>
<div class="c " style="left:193.30px;top:507.16px;width:88.20px;height:19.84px"><div>2-3<span class="k">年</span></div></div>
<div class="c " style="left:281.50px;top:507.16px;width:88.10px;height:19.84px"><div>1.856</div></div>
<div class="c " style="left:369.60px;top:507.16px;width:48.80px;height:19.84px"><div>-7.5</div></div>
<div class="c " style="left:418.40px;top:507.16px;width:44.40px;height:19.84px"><div>4.2</div></div>
<div class="c " style="left:462.80px;top:507.16px;width:48.80px;height:19.84px"><div>-2.1</div></div>
<div class="c " style="left:511.60px;top:507.16px;width:43.90px;height:19.84px"><div>12.8</div></div>
<div class="c " style="left:555.50px;top:507.16px;width:49.50px;height:19.84px"><div>-7.2</div></div>
<div class="c " style="left:605.00px;top:507.16px;width:49.60px;height:19.84px"><div>-4.9</div></div>
<div class="c r" style="left:654.60px;top:507.16px;width:49.10px;height:19.84px"><div>6.0</div></div>
<div class="c " style="left:703.70px;top:507.16px;width:108.70px;height:19.84px"><div>11.9</div></div>
<div class="c " style="left:193.30px;top:527.00px;width:88.20px;height:19.84px"><div>3-5<span class="k">年</span></div></div>
<div class="c " style="left:281.50px;top:527.00px;width:88.10px;height:19.84px"><div>2.077</div></div>
<div class="c " style="left:369.60px;top:527.00px;width:48.80px;height:19.84px"><div>-6.9</div></div>
<div class="c " style="left:418.40px;top:527.00px;width:44.40px;height:19.84px"><div>4.7</div></div>
<div class="c " style="left:462.80px;top:527.00px;width:48.80px;height:19.84px"><div>-0.6</div></div>
<div class="c " style="left:511.60px;top:527.00px;width:43.90px;height:19.84px"><div>14.1</div></div>
<div class="c " style="left:555.50px;top:527.00px;width:49.50px;height:19.84px"><div>-6.1</div></div>
<div class="c " style="left:605.00px;top:527.00px;width:49.60px;height:19.84px"><div>-1.3</div></div>
<div class="c r" style="left:654.60px;top:527.00px;width:49.10px;height:19.84px"><div>9.7</div></div>
<div class="c " style="left:703.70px;top:527.00px;width:108.70px;height:19.84px"><div>24.2</div></div>
<div class="c " style="left:193.30px;top:546.83px;width:88.20px;height:19.84px"><div>3<span class="k">年</span></div></div>
<div class="c " style="left:281.50px;top:546.83px;width:88.10px;height:19.84px"><div>1.409</div></div>
<div class="c " style="left:369.60px;top:546.83px;width:48.80px;height:19.84px"><div>-1.4</div></div>
<div class="c " style="left:418.40px;top:546.83px;width:44.40px;height:19.84px"><div>3.7</div></div>
<div class="c " style="left:462.80px;top:546.83px;width:48.80px;height:19.84px"><div>-1.1</div></div>
<div class="c " style="left:511.60px;top:546.83px;width:43.90px;height:19.84px"><div>7.3</div></div>
<div class="c " style="left:555.50px;top:546.83px;width:49.50px;height:19.84px"><div>-3.3</div></div>
<div class="c " style="left:605.00px;top:546.83px;width:49.60px;height:19.84px"><div>-2.9</div></div>
<div class="c " style="left:654.60px;top:546.83px;width:49.10px;height:19.84px"><div>-0.7</div></div>
<div class="c " style="left:703.70px;top:546.83px;width:108.70px;height:19.84px"><div>29.7</div></div>
<div class="c " style="left:193.30px;top:566.67px;width:88.20px;height:19.84px"><div>5<span class="k">年</span></div></div>
<div class="c " style="left:281.50px;top:566.67px;width:88.10px;height:19.84px"><div>1.595</div></div>
<div class="c " style="left:369.60px;top:566.67px;width:48.80px;height:19.84px"><div>-1.4</div></div>
<div class="c " style="left:418.40px;top:566.67px;width:44.40px;height:19.84px"><div>3.6</div></div>
<div class="c " style="left:462.80px;top:566.67px;width:48.80px;height:19.84px"><div>-0.4</div></div>
<div class="c " style="left:511.60px;top:566.67px;width:43.90px;height:19.84px"><div>7.9</div></div>
<div class="c " style="left:555.50px;top:566.67px;width:49.50px;height:19.84px"><div>-3.6</div></div>
<div class="c " style="left:605.00px;top:566.67px;width:49.60px;height:19.84px"><div>-2.3</div></div>
<div class="c " style="left:654.60px;top:566.67px;width:49.10px;height:19.84px"><div>4.9</div></div>
<div class="c " style="left:703.70px;top:566.67px;width:108.70px;height:19.84px"><div>25.4</div></div>
<div class="c " style="left:193.30px;top:586.51px;width:88.20px;height:19.84px"><div>10<span class="k">年</span></div></div>
<div class="c " style="left:281.50px;top:586.51px;width:88.10px;height:19.84px"><div>1.747</div></div>
<div class="c " style="left:369.60px;top:586.51px;width:48.80px;height:19.84px"><div>-0.3</div></div>
<div class="c " style="left:418.40px;top:586.51px;width:44.40px;height:19.84px"><div>2.2</div></div>
<div class="c " style="left:462.80px;top:586.51px;width:48.80px;height:19.84px"><div>0.0</div></div>
<div class="c " style="left:511.60px;top:586.51px;width:43.90px;height:19.84px"><div>6.7</div></div>
<div class="c " style="left:555.50px;top:586.51px;width:49.50px;height:19.84px"><div>-2.7</div></div>
<div class="c " style="left:605.00px;top:586.51px;width:49.60px;height:19.84px"><div>-1.7</div></div>
<div class="c " style="left:654.60px;top:586.51px;width:49.10px;height:19.84px"><div>5.7</div></div>
<div class="c " style="left:703.70px;top:586.51px;width:108.70px;height:19.84px"><div>15.1</div></div>
<div class="src">来源：<span class="m">iFind</span>，国金证券研究所</div>
</div>
</body></html>
